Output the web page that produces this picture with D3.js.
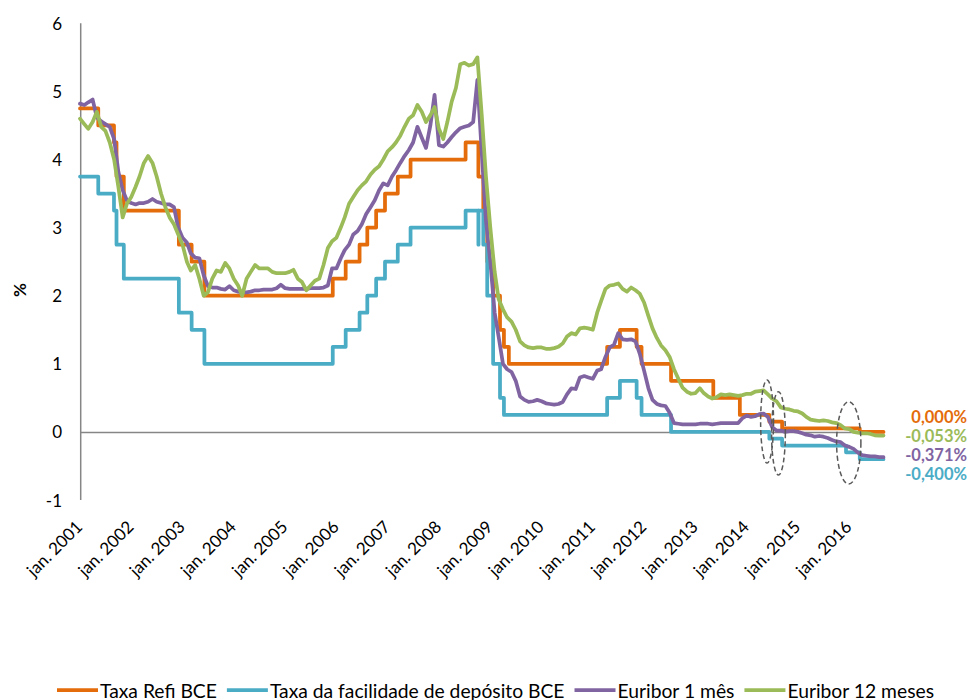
<!DOCTYPE html>
<html>
<head>
<meta charset="utf-8">
<script src="https://cdn.jsdelivr.net/npm/d3@7"></script>
<style>
  html, body { margin: 0; padding: 0; background: #fff; }
  svg { display: block; font-family: Lato, "Open Sans", sans-serif; }
</style>
</head>
<body>
<svg id="chart" width="968" height="700"></svg>
<script>
// ---- data -------------------------------------------------------------
const yearTicks = [2001, 2002, 2003, 2004, 2005, 2006, 2007, 2008,
                   2009, 2010, 2011, 2012, 2013, 2014, 2015, 2016];
const yTicks = [-1, 0, 1, 2, 3, 4, 5, 6];
const endDate = "2016-09-01";

// ECB main refinancing rate (date of change, new rate %)
const refiDates = ["2001-01-01","2001-05-11","2001-08-31","2001-09-18","2001-11-09",
  "2002-12-06","2003-03-07","2003-06-06","2005-12-06","2006-03-08","2006-06-15",
  "2006-08-09","2006-10-11","2006-12-13","2007-03-14","2007-06-13","2008-07-09",
  "2008-10-08","2008-11-12","2008-12-10","2009-01-21","2009-03-11","2009-04-08",
  "2009-05-13","2011-04-13","2011-07-13","2011-11-09","2011-12-14","2012-07-11",
  "2013-05-08","2013-11-13","2014-06-11","2014-09-10","2016-03-16","2016-09-01"];
const refiValues = [4.75, 4.50, 4.25, 3.75, 3.25,
  2.75, 2.50, 2.00, 2.25, 2.50, 2.75,
  3.00, 3.25, 3.50, 3.75, 4.00, 4.25,
  3.75, 3.25, 2.50, 2.00, 1.50, 1.25,
  1.00, 1.25, 1.50, 1.25, 1.00, 0.75,
  0.50, 0.25, 0.15, 0.05, 0.00, 0.00];

// ECB deposit facility rate (date of change, new rate %)
const depositDates = ["2001-01-01","2001-05-11","2001-08-31","2001-09-18","2001-11-09",
  "2002-12-06","2003-03-07","2003-06-06","2005-12-06","2006-03-08","2006-06-15",
  "2006-08-09","2006-10-11","2006-12-13","2007-03-14","2007-06-13","2008-07-09",
  "2008-10-08","2008-10-09","2008-11-12","2008-12-10","2009-01-21","2009-03-11",
  "2009-04-08","2011-04-13","2011-07-13","2011-11-09","2011-12-14","2012-07-11",
  "2014-06-11","2014-09-10","2015-12-09","2016-03-16","2016-09-01"];
const depositValues = [3.75, 3.50, 3.25, 2.75, 2.25,
  1.75, 1.50, 1.00, 1.25, 1.50, 1.75,
  2.00, 2.25, 2.50, 2.75, 3.00, 3.25,
  2.75, 3.25, 2.75, 2.00, 1.00, 0.50,
  0.25, 0.50, 0.75, 0.50, 0.25, 0.00,
  -0.10, -0.20, -0.30, -0.40, -0.40];

// Euribor, one value per month from January 2001
const euriborStart = "2001-01-01";
const euribor1m = [
  4.82, 4.80, 4.84, 4.88, 4.62, 4.56, 4.52, 4.48, 4.30, 3.82, 3.55, 3.40,
  3.36, 3.34, 3.36, 3.36, 3.38, 3.42, 3.38, 3.36, 3.34, 3.34, 3.30, 3.00,
  2.85, 2.78, 2.62, 2.56, 2.55, 2.30, 2.14, 2.12, 2.12, 2.10, 2.09, 2.14,
  2.08, 2.06, 2.05, 2.05, 2.06, 2.08, 2.08, 2.09, 2.09, 2.09, 2.11, 2.16,
  2.11, 2.10, 2.10, 2.10, 2.10, 2.10, 2.11, 2.11, 2.11, 2.12, 2.15, 2.40,
  2.40, 2.55, 2.67, 2.75, 2.90, 2.95, 3.05, 3.20, 3.30, 3.40, 3.55, 3.65,
  3.62, 3.75, 3.84, 3.95, 4.05, 4.14, 4.25, 4.48, 4.32, 4.17, 4.50, 4.95,
  4.21, 4.19, 4.25, 4.33, 4.40, 4.46, 4.48, 4.50, 4.55, 5.17, 4.10, 3.10,
  2.50, 1.75, 1.40, 1.00, 0.92, 0.88, 0.75, 0.52, 0.47, 0.44, 0.45, 0.47,
  0.45, 0.42, 0.41, 0.40, 0.41, 0.44, 0.55, 0.64, 0.63, 0.80, 0.82, 0.80,
  0.78, 0.90, 0.92, 1.10, 1.24, 1.28, 1.45, 1.36, 1.35, 1.36, 1.33, 1.15,
  0.90, 0.64, 0.47, 0.41, 0.39, 0.38, 0.28, 0.13, 0.12, 0.11, 0.11, 0.11,
  0.11, 0.12, 0.12, 0.12, 0.11, 0.12, 0.13, 0.13, 0.13, 0.13, 0.13, 0.20,
  0.24, 0.22, 0.23, 0.26, 0.27, 0.22, 0.07, 0.02, 0.02, 0.00, 0.01, 0.01,
  0.00, -0.02, -0.04, -0.05, -0.07, -0.06, -0.07, -0.09, -0.12, -0.14, -0.15, -0.20,
  -0.22, -0.25, -0.30, -0.34, -0.35, -0.36, -0.36, -0.37, -0.371];
const euribor12m = [
  4.60, 4.52, 4.45, 4.55, 4.70, 4.48, 4.42, 4.25, 4.00, 3.60, 3.15, 3.35,
  3.45, 3.60, 3.75, 3.95, 4.05, 3.95, 3.75, 3.50, 3.30, 3.15, 3.05, 2.90,
  2.75, 2.50, 2.37, 2.45, 2.25, 2.00, 2.05, 2.25, 2.37, 2.35, 2.48, 2.40,
  2.25, 2.15, 2.00, 2.25, 2.35, 2.45, 2.40, 2.40, 2.40, 2.35, 2.33, 2.33,
  2.33, 2.35, 2.38, 2.25, 2.20, 2.08, 2.15, 2.22, 2.25, 2.45, 2.70, 2.80,
  2.85, 3.00, 3.15, 3.35, 3.45, 3.55, 3.62, 3.68, 3.78, 3.85, 3.90, 4.00,
  4.12, 4.18, 4.25, 4.35, 4.48, 4.60, 4.65, 4.80, 4.70, 4.55, 4.65, 4.77,
  4.45, 4.30, 4.55, 4.85, 5.05, 5.40, 5.42, 5.38, 5.40, 5.50, 4.65, 3.75,
  3.00, 2.35, 1.95, 1.80, 1.68, 1.62, 1.50, 1.33, 1.27, 1.24, 1.23, 1.24,
  1.24, 1.22, 1.22, 1.23, 1.25, 1.30, 1.40, 1.45, 1.43, 1.52, 1.53, 1.52,
  1.50, 1.75, 1.92, 2.10, 2.15, 2.16, 2.18, 2.10, 2.06, 2.12, 2.08, 2.03,
  1.90, 1.70, 1.52, 1.38, 1.27, 1.20, 1.10, 0.92, 0.78, 0.65, 0.59, 0.56,
  0.57, 0.64, 0.57, 0.52, 0.49, 0.51, 0.55, 0.54, 0.55, 0.54, 0.53, 0.54,
  0.56, 0.56, 0.59, 0.60, 0.61, 0.55, 0.49, 0.45, 0.36, 0.34, 0.33, 0.31,
  0.30, 0.27, 0.22, 0.18, 0.17, 0.16, 0.17, 0.16, 0.14, 0.13, 0.10, 0.05,
  0.04, 0.00, -0.01, -0.02, -0.02, -0.03, -0.05, -0.055, -0.053];

const seriesNames = ["Taxa Refi BCE", "Taxa da facilidade de depósito BCE",
                     "Euribor 1 mês", "Euribor 12 meses"];

// dashed rings around the rate cuts (date span, value span)
const ringDates = [["2014-04-10", "2014-07-11"], ["2014-06-27", "2014-10-03"],
                   ["2015-10-03", "2016-03-24"]];
const ringValues = [[-0.457, 0.762], [-0.633, 0.590], [-0.765, 0.443]];

// ---- styling ------------------------------------------------------------
const colors = ["#E46C0A", "#4BACC6", "#8064A2", "#9BBB59"];
const axisColor = "#868686";
const labelNudge = [-14.5, 15, -2, 0];   // vertical offsets for end labels

// ---- build --------------------------------------------------------------
const parse = d3.timeParse("%Y-%m-%d");
const pct = d3.formatLocale({decimal: ",", thousands: ".", grouping: [3],
                             currency: ["", "€"], minus: "-"}).format(".3f");

const stepSeries = (dates, values) => dates.map((d, i) => ({date: parse(d), value: values[i]}));
const monthlySeries = values => values.map((v, i) =>
  ({date: d3.timeMonth.offset(parse(euriborStart), i), value: v}));

const series = [
  {data: stepSeries(refiDates, refiValues), step: true},
  {data: stepSeries(depositDates, depositValues), step: true},
  {data: monthlySeries(euribor1m), step: false},
  {data: monthlySeries(euribor12m), step: false}
];

const svg = d3.select("#chart");
const x = d3.scaleTime()
  .domain([parse("2001-01-01"), parse(endDate)])
  .range([80, 883.5]);
const y = d3.scaleLinear().domain([-1, 6]).range([500, 23.3]);

// y axis line and tick labels
svg.append("line")
  .attr("x1", 80.7).attr("x2", 80.7)
  .attr("y1", y(6)).attr("y2", y(-1))
  .attr("stroke", axisColor).attr("stroke-width", 1.5);

svg.append("g").selectAll("text").data(yTicks).join("text")
  .attr("x", 62).attr("y", d => y(d))
  .attr("text-anchor", "end").attr("dominant-baseline", "central")
  .attr("font-size", 17).attr("fill", "#000")
  .text(d => d);

svg.append("text")
  .attr("transform", "translate(19,290) rotate(-90)")
  .attr("text-anchor", "middle").attr("dominant-baseline", "central")
  .attr("font-size", 17).attr("font-weight", "bold")
  .text("%");

// x axis on the zero line
const xAxis = d3.axisBottom(x)
  .tickValues(yearTicks.map(yr => new Date(yr, 0, 1)))
  .tickSize(0)
  .tickFormat(d => "jan. " + d.getFullYear());
const gx = svg.append("g").attr("transform", `translate(0,${y(0)})`).call(xAxis);
gx.select(".domain").attr("stroke", axisColor).attr("stroke-width", 1.5);
gx.selectAll(".tick text")
  .attr("font-family", null).attr("font-size", 17).attr("fill", "#000")
  .attr("text-anchor", "end")
  .attr("dy", null).attr("y", 0)
  .attr("transform", `translate(3,${y(-1) - y(0) + 28}) rotate(-45)`);
gx.attr("font-family", null).attr("font-size", null);

// series lines
const lineStep = d3.line().x(d => x(d.date)).y(d => y(d.value)).curve(d3.curveStepAfter);
const lineFree = d3.line().x(d => x(d.date)).y(d => y(d.value));
svg.append("g").selectAll("path").data(series).join("path")
  .attr("d", s => (s.step ? lineStep : lineFree)(s.data))
  .attr("fill", "none")
  .attr("stroke", (s, i) => colors[i])
  .attr("stroke-width", 3.75)
  .attr("stroke-linejoin", "round")
  .attr("stroke-linecap", "round");

// dashed rings
svg.append("g").selectAll("ellipse").data(ringDates).join("ellipse")
  .attr("cx", d => (x(parse(d[0])) + x(parse(d[1]))) / 2)
  .attr("cy", (d, i) => (y(ringValues[i][0]) + y(ringValues[i][1])) / 2)
  .attr("rx", d => (x(parse(d[1])) - x(parse(d[0]))) / 2)
  .attr("ry", (d, i) => (y(ringValues[i][0]) - y(ringValues[i][1])) / 2)
  .attr("fill", "none").attr("stroke", "#595959")
  .attr("stroke-width", 1.5).attr("stroke-dasharray", "5,3");

// end-of-series value labels
svg.append("g").selectAll("text").data(series).join("text")
  .attr("x", 967)
  .attr("y", (s, i) => y(s.data[s.data.length - 1].value) + labelNudge[i])
  .attr("text-anchor", "end").attr("dominant-baseline", "central")
  .attr("font-size", 16.5).attr("font-weight", "bold")
  .attr("fill", (s, i) => colors[i])
  .text(s => pct(s.data[s.data.length - 1].value) + "%");

// legend
const legend = svg.append("g").attr("transform", "translate(0,690)");
let lx = 57;
seriesNames.forEach((name, i) => {
  legend.append("line")
    .attr("x1", lx).attr("x2", lx + 41).attr("y1", 0).attr("y2", 0)
    .attr("stroke", colors[i]).attr("stroke-width", 3.75);
  const t = legend.append("text")
    .attr("x", lx + 43).attr("y", 0)
    .attr("dominant-baseline", "central")
    .attr("font-size", 19.3).attr("fill", "#000")
    .text(name);
  lx += 43 + t.node().getComputedTextLength() + 10;
});
</script>
</body>
</html>
